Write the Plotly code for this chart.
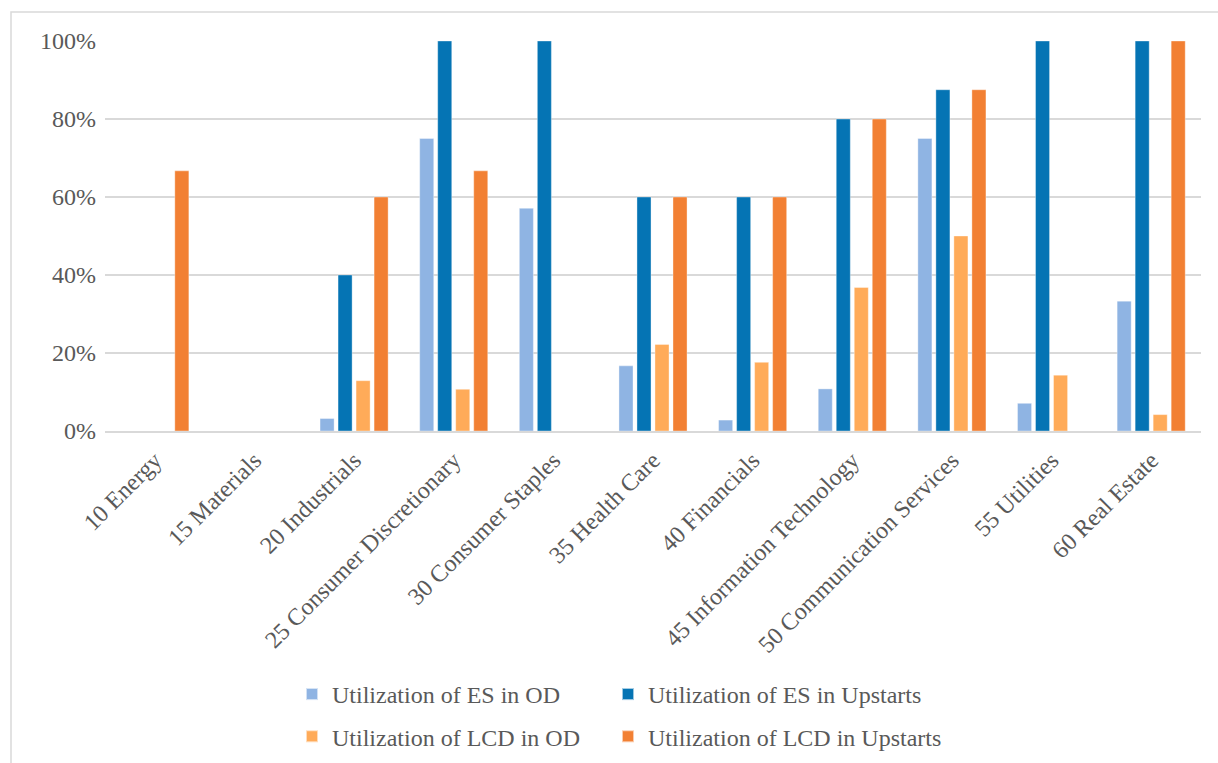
import plotly.graph_objects as go

# GICS sectors on the category axis
sectors = [
    "10 Energy", "15 Materials", "20 Industrials", "25 Consumer Discretionary",
    "30 Consumer Staples", "35 Health Care", "40 Financials",
    "45 Information Technology", "50 Communication Services", "55 Utilities",
    "60 Real Estate",
]

# Utilization shares in percent
es_od = [0, 0, 3.2, 75.0, 57.1, 16.7, 2.8, 10.8, 75.0, 7.1, 33.3]
es_upstarts = [0, 0, 40.0, 100.0, 100.0, 60.0, 60.0, 80.0, 87.5, 100.0, 100.0]
lcd_od = [0, 0, 12.9, 10.7, 0, 22.2, 17.6, 36.8, 50.0, 14.3, 4.2]
lcd_upstarts = [66.7, 0, 60.0, 66.7, 0, 60.0, 60.0, 80.0, 87.5, 0, 100.0]

y_ticks = [0, 20, 40, 60, 80, 100]
y_tick_labels = ["0%", "20%", "40%", "60%", "80%", "100%"]

W, H = 1218, 763
M_L, M_R, M_T, M_B = 105, 17, 41, 332
PW, PH = W - M_L - M_R, H - M_T - M_B

FONT = "Liberation Serif, Times New Roman, serif"
TEXT = "#595959"
GRID = "#d9d9d9"
FS = 24

series = [
    ("Utilization of ES in OD", es_od, "#8fb4e3", "legend", "a"),
    ("Utilization of ES in Upstarts", es_upstarts, "#0574b4", "legend2", "b"),
    ("Utilization of LCD in OD", lcd_od, "#ffab59", "legend", "c"),
    ("Utilization of LCD in Upstarts", lcd_upstarts, "#f28033", "legend2", "d"),
]

fig = go.Figure()
for name, vals, color, leg, grp in series:
    fig.add_trace(go.Bar(
        x=sectors, y=vals, name=name, legend=leg, legendgroup=grp,
        marker=dict(color=color, line=dict(color="rgba(255,255,255,0.6)", width=0.6)),
    ))


def px_x(px):
    return (px - M_L) / PW


def px_y(py):
    return (H - M_B - py) / PH


legend_common = dict(
    orientation="v", traceorder="grouped", tracegroupgap=8,
    font=dict(family=FONT, size=FS, color=TEXT),
    bgcolor="rgba(0,0,0,0)", xanchor="left", yanchor="top",
    itemsizing="constant", itemwidth=30,
)

fig.update_layout(
    width=W, height=H,
    margin=dict(l=M_L, r=M_R, t=M_T, b=M_B, autoexpand=False),
    paper_bgcolor="white", plot_bgcolor="white",
    barmode="group", bargap=0.277, bargroupgap=0.22,
    font=dict(family=FONT, size=FS, color=TEXT),
    legend=dict(x=px_x(292), y=px_y(672), **legend_common),
    legend2=dict(x=px_x(608), y=px_y(672), **legend_common),
    xaxis=dict(
        tickangle=-45, showgrid=False, ticks="",
        showline=True, linecolor=GRID, linewidth=1.5,
        tickfont=dict(family=FONT, size=FS, color=TEXT),
        ticklabelstandoff=4,
    ),
    yaxis=dict(
        range=[0, 100], tickvals=y_ticks, ticktext=y_tick_labels,
        showgrid=True, gridcolor=GRID, gridwidth=1.5,
        zeroline=False, showline=False, ticks="",
        tickfont=dict(family=FONT, size=FS, color=TEXT),
        ticklabelstandoff=8,
    ),
    shapes=[dict(
        type="rect", xref="paper", yref="paper", layer="below",
        x0=px_x(11), x1=px_x(1240), y0=px_y(790), y1=px_y(12),
        line=dict(color=GRID, width=1.5), fillcolor="rgba(0,0,0,0)",
    )],
)

fig.write_html("out.html")
